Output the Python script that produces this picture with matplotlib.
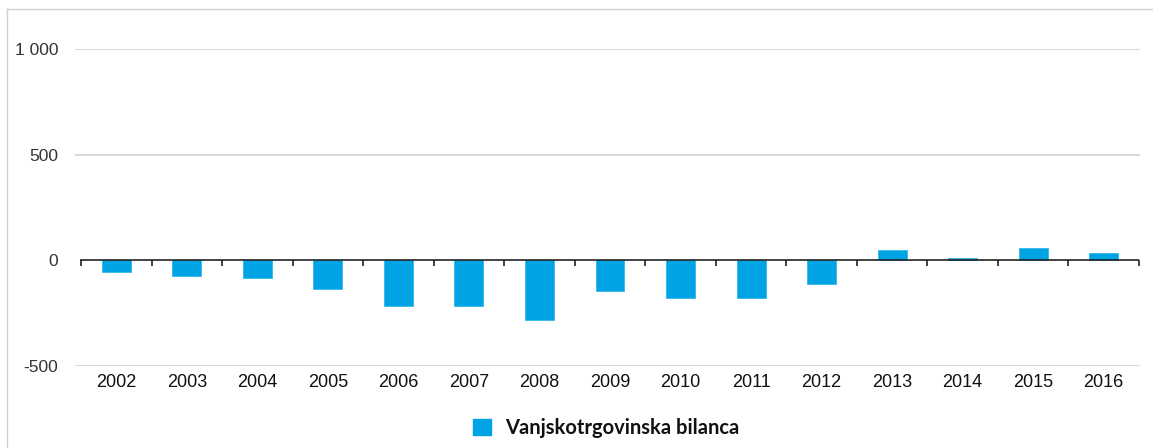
import numpy as np
import matplotlib.pyplot as plt
from matplotlib.lines import Line2D
from matplotlib.patches import Patch

# data
years = ["2002", "2003", "2004", "2005", "2006", "2007", "2008", "2009",
         "2010", "2011", "2012", "2013", "2014", "2015", "2016"]
balance = [-53, -74, -82, -137, -218, -218, -280, -143,
           -177, -177, -114, 50, 9, 56, 36]
y_ticks = [-500, 0, 500, 1000]
y_tick_labels = ["-500", "0", "500", "1 000"]

bar_color = "#00A3E4"
grid_color = "#D9D9D9"

plt.rcParams["font.family"] = ["Liberation Sans", "DejaVu Sans"]

W, H = 1153, 448
fig = plt.figure(figsize=(W / 100, H / 100), dpi=100)
ax = fig.add_axes([75 / W, 1 - 366 / H, (1140 - 75) / W, (366 - 49) / H])

x = np.arange(len(years))
ax.bar(x, balance, width=0.41, color=bar_color, edgecolor="#35B8EC",
       linewidth=0.6, zorder=3)

ax.set_ylim(-500, 1000)
ax.set_xlim(-0.5 - 6 / 70.53, 14.5 + 1 / 70.53)

# gridlines
for t in y_ticks:
    if t != 0:
        ax.axhline(t, color=grid_color, linewidth=1.5, zorder=1)

# zero axis with category boundary ticks
ax.plot([-0.5 - 1 / 70.53, 14.5], [0, 0], color="#222222", linewidth=1.2,
        zorder=4, solid_capstyle="butt")
bounds = np.arange(-0.5, len(years), 1.0)
ax.vlines(bounds, 0, -26, color="#222222", linewidth=1.2, zorder=4)

ax.set_yticks(y_ticks)
ax.set_yticklabels(y_tick_labels, fontsize=12.5, color="#333333")
ax.tick_params(axis="y", length=0, pad=12)
ax.set_xticks(x)
ax.set_xticklabels(years, fontsize=13, color="#111111")
ax.tick_params(axis="x", length=0, pad=6)

for s in ax.spines.values():
    s.set_visible(False)

# legend
handle = Patch(facecolor=bar_color, edgecolor=bar_color)
leg = fig.legend([handle], ["Vanjskotrgovinska bilanca"], loc="center",
                 bbox_to_anchor=(606 / W, 1 - 428 / H), frameon=False,
                 handlelength=0.9, handleheight=0.9, handletextpad=0.7,
                 prop={"family": ["Lato", "DejaVu Sans"], "weight": "bold", "size": 14.5})
for t in leg.get_texts():
    t.set_color("#111111")

# outer frame lines
fig.add_artist(Line2D([7 / W, 1], [1 - 9 / H, 1 - 9 / H], color="#D0D0D0", linewidth=1))
fig.add_artist(Line2D([7 / W, 7 / W], [0, 1 - 9 / H], color="#D0D0D0", linewidth=1))

fig.savefig("out.png", dpi=100)
